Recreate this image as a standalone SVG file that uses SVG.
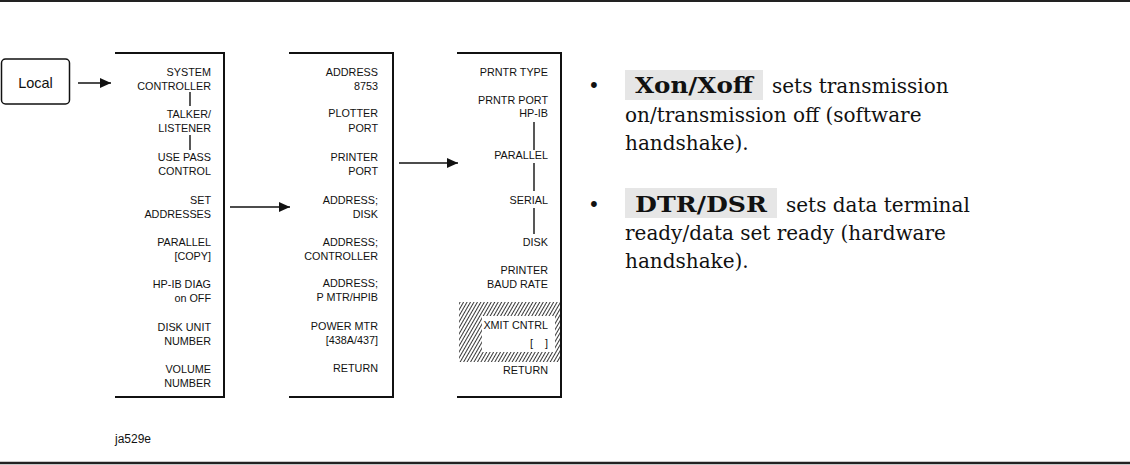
<svg xmlns="http://www.w3.org/2000/svg" width="1130" height="465" viewBox="0 0 1130 465">
<defs>
<style>
.k{font-family:"Liberation Sans",Arial,sans-serif;font-size:10.8px;fill:#111;text-anchor:end}
.frame{fill:none;stroke:#111;stroke-width:2}
.link{stroke:#111;stroke-width:1.4;fill:none}
.arr{stroke:#111;stroke-width:1.6;fill:none;marker-end:url(#ah)}
.t{font-family:"DejaVu Serif","Liberation Serif",serif;font-size:20px;fill:#111}
.b{font-weight:bold;font-size:22.5px}
.hl{fill:#e6e6e6}
</style>
<marker id="ah" markerUnits="userSpaceOnUse" markerWidth="12" markerHeight="12" viewBox="0 0 12 12" refX="11" refY="6" orient="auto">
<path d="M0,1 L11,6 L0,11 Z" fill="#111"/>
</marker>
<pattern id="hatch" patternUnits="userSpaceOnUse" width="3" height="10" patternTransform="rotate(30)">
<line x1="0.5" y1="0" x2="0.5" y2="10" stroke="#222" stroke-width="0.9"/>
</pattern>
</defs>
<rect x="0" y="0" width="1130" height="465" fill="#fff"/>
<line x1="0" y1="1" x2="1130" y2="1" stroke="#222" stroke-width="2"/>
<line x1="0" y1="463" x2="1130" y2="463" stroke="#222" stroke-width="2.5"/>

<g id="local">
<rect x="1.5" y="59" width="68" height="45" rx="4" fill="#fff" stroke="#111" stroke-width="1.5"/>
<text x="35.5" y="88" font-family="Liberation Sans,Arial,sans-serif" font-size="14.5" text-anchor="middle" fill="#111">Local</text>
</g>

<g id="menu1">
<path class="frame" d="M115,53 H224 V397 H115"/>
<text class="k" x="211" y="76">SYSTEM</text>
<text class="k" x="211" y="89.5">CONTROLLER</text>
<line class="link" x1="190" y1="92" x2="190" y2="106"/>
<text class="k" x="211" y="118">TALKER/</text>
<text class="k" x="211" y="132">LISTENER</text>
<line class="link" x1="190" y1="135" x2="190" y2="150"/>
<text class="k" x="211" y="161">USE PASS</text>
<text class="k" x="211" y="175">CONTROL</text>
<text class="k" x="211" y="204">SET</text>
<text class="k" x="211" y="217.5">ADDRESSES</text>
<text class="k" x="211" y="246">PARALLEL</text>
<text class="k" x="211" y="260">[COPY]</text>
<text class="k" x="211" y="288">HP-IB DIAG</text>
<text class="k" x="211" y="302">on OFF</text>
<text class="k" x="211" y="331">DISK UNIT</text>
<text class="k" x="211" y="345">NUMBER</text>
<text class="k" x="211" y="373">VOLUME</text>
<text class="k" x="211" y="387">NUMBER</text>
</g>

<g id="menu2">
<path class="frame" d="M289,53 H393 V397 H289"/>
<text class="k" x="378" y="76">ADDRESS</text>
<text class="k" x="378" y="89.5">8753</text>
<text class="k" x="378" y="117">PLOTTER</text>
<text class="k" x="378" y="132">PORT</text>
<text class="k" x="378" y="161">PRINTER</text>
<text class="k" x="378" y="174.5">PORT</text>
<text class="k" x="378" y="204">ADDRESS;</text>
<text class="k" x="378" y="217.5">DISK</text>
<text class="k" x="378" y="246">ADDRESS;</text>
<text class="k" x="378" y="259.5">CONTROLLER</text>
<text class="k" x="378" y="287">ADDRESS;</text>
<text class="k" x="378" y="301">P MTR/HPIB</text>
<text class="k" x="378" y="330">POWER MTR</text>
<text class="k" x="378" y="344">[438A/437]</text>
<text class="k" x="378" y="372">RETURN</text>
</g>

<g id="menu3">
<path class="frame" d="M457,53 H561 V397 H457"/>
<text class="k" x="548" y="76">PRNTR TYPE</text>
<text class="k" x="548" y="104">PRNTR PORT</text>
<text class="k" x="548" y="117">HP-IB</text>
<line class="link" x1="534" y1="122" x2="534" y2="150"/>
<text class="k" x="548" y="159">PARALLEL</text>
<line class="link" x1="534" y1="163" x2="534" y2="191"/>
<text class="k" x="548" y="204">SERIAL</text>
<line class="link" x1="534" y1="208" x2="534" y2="234"/>
<text class="k" x="548" y="246">DISK</text>
<text class="k" x="548" y="274">PRINTER</text>
<text class="k" x="548" y="287.5">BAUD RATE</text>
<rect x="459" y="302" width="101" height="60" fill="url(#hatch)"/>
<rect x="482" y="316" width="73" height="36" fill="#fff"/>
<text class="k" x="548" y="329">XMIT CNTRL</text>
<text class="k" x="548" y="347">[&#160;&#160;&#160;&#160;]</text>
<text class="k" x="548" y="374">RETURN</text>
</g>

<g id="connectors">
<line class="arr" x1="78" y1="83" x2="111" y2="83"/>
<line class="arr" x1="230" y1="207" x2="290" y2="207"/>
<line class="arr" x1="399" y1="163" x2="458" y2="163"/>
</g>

<g id="notes">
<text class="t" x="588" y="93">•</text>
<rect class="hl" x="625" y="70" width="138" height="30"/>
<text class="t b" x="635" y="93" textLength="118" lengthAdjust="spacingAndGlyphs">Xon/Xoff</text>
<text class="t" x="772" y="93">sets transmission</text>
<text class="t" x="625" y="122">on/transmission off (software</text>
<text class="t" x="625" y="150">handshake).</text>
<text class="t" x="588" y="212">•</text>
<rect class="hl" x="625" y="188" width="152" height="30"/>
<text class="t b" x="635" y="212" textLength="132" lengthAdjust="spacingAndGlyphs">DTR/DSR</text>
<text class="t" x="786" y="212">sets data terminal</text>
<text class="t" x="625" y="240">ready/data set ready (hardware</text>
<text class="t" x="625" y="268">handshake).</text>
</g>

<text x="115" y="443" font-family="Liberation Sans,Arial,sans-serif" font-size="12" fill="#111">ja529e</text>
</svg>
